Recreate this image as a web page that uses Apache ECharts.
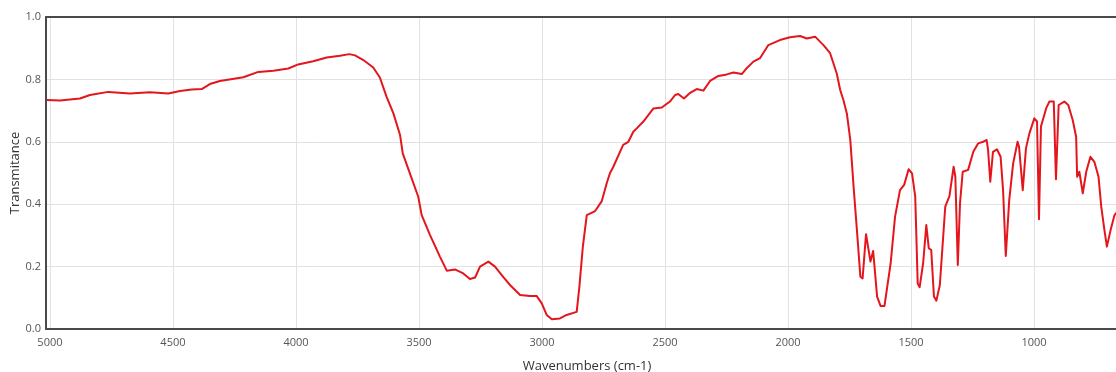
<!DOCTYPE html>
<html>
<head>
<meta charset="utf-8">
<title>IR Spectrum</title>
<script src="https://cdn.jsdelivr.net/npm/echarts@6/dist/echarts.min.js"></script>
<style>
  html, body { margin: 0; padding: 0; background: #ffffff; }
  #chart { width: 1116px; height: 372px; }
</style>
</head>
<body>
<div id="chart"></div>
<script>
// Infrared spectrum: wavenumber (cm-1) vs. transmittance
const wavenumbers = [
  5013, 4959, 4878, 4837, 4763, 4675, 4593, 4519, 4471, 4424, 4383, 4350, 4309, 4214,
  4153, 4092, 4031, 3991, 3930, 3875, 3821, 3783, 3760, 3726, 3686, 3659, 3632, 3604,
  3577, 3566, 3537, 3503, 3489, 3455, 3415, 3387, 3354, 3320, 3293, 3272, 3252, 3218,
  3191, 3157, 3130, 3089, 3049, 3022, 3001, 2981, 2960, 2927, 2900, 2859, 2848, 2834,
  2818, 2784, 2757, 2737, 2724, 2710, 2683, 2670, 2649, 2629, 2615, 2588, 2547, 2513,
  2480, 2459, 2446, 2423, 2398, 2371, 2344, 2317, 2283, 2249, 2222, 2188, 2168, 2141,
  2114, 2080, 2033, 1992, 1951, 1924, 1890, 1856, 1829, 1802, 1788, 1775, 1761, 1747,
  1733, 1720, 1706, 1697, 1683, 1665, 1654, 1638, 1624, 1608, 1583, 1565, 1545, 1528,
  1510, 1496, 1483, 1473, 1465, 1451, 1438, 1428, 1418, 1407, 1397, 1383, 1378, 1361,
  1344, 1327, 1320, 1310, 1301, 1290, 1268, 1247, 1227, 1207, 1193, 1187, 1178, 1167,
  1151, 1136, 1126, 1115, 1101, 1085, 1067, 1061, 1046, 1033, 1019, 999, 988, 980,
  972, 951, 938, 920, 911, 900, 877, 861, 843, 829, 825, 816, 802, 788,
  771, 755, 738, 727, 714, 704, 689, 673, 662
];
const transmittance = [
  0.734, 0.732, 0.739, 0.750, 0.760, 0.755, 0.759, 0.755, 0.763, 0.768, 0.769, 0.785, 0.795, 0.807,
  0.824, 0.828, 0.835, 0.848, 0.858, 0.870, 0.876, 0.881, 0.877, 0.862, 0.838, 0.806, 0.745, 0.691,
  0.622, 0.563, 0.499, 0.424, 0.365, 0.301, 0.232, 0.187, 0.191, 0.178, 0.160, 0.165, 0.200, 0.216,
  0.200, 0.166, 0.141, 0.109, 0.106, 0.106, 0.082, 0.045, 0.031, 0.034, 0.045, 0.055, 0.136, 0.264,
  0.365, 0.378, 0.410, 0.467, 0.499, 0.520, 0.568, 0.590, 0.600, 0.632, 0.643, 0.665, 0.707, 0.710,
  0.729, 0.750, 0.753, 0.739, 0.757, 0.769, 0.764, 0.795, 0.811, 0.816, 0.822, 0.817, 0.836, 0.857,
  0.868, 0.910, 0.926, 0.935, 0.939, 0.931, 0.937, 0.910, 0.884, 0.819, 0.766, 0.734, 0.691, 0.606,
  0.450, 0.317, 0.168, 0.162, 0.304, 0.216, 0.250, 0.104, 0.074, 0.074, 0.210, 0.360, 0.445, 0.462,
  0.512, 0.499, 0.424, 0.146, 0.134, 0.210, 0.333, 0.259, 0.253, 0.104, 0.091, 0.141, 0.141, 0.392,
  0.426, 0.520, 0.488, 0.205, 0.403, 0.504, 0.510, 0.568, 0.595, 0.600, 0.606, 0.574, 0.472, 0.568,
  0.576, 0.552, 0.445, 0.234, 0.413, 0.531, 0.600, 0.584, 0.445, 0.579, 0.627, 0.675, 0.665, 0.352,
  0.649, 0.707, 0.729, 0.729, 0.480, 0.718, 0.729, 0.718, 0.670, 0.616, 0.488, 0.504, 0.435, 0.504,
  0.552, 0.536, 0.488, 0.392, 0.317, 0.264, 0.317, 0.365, 0.376
];
const xTickValues = [5000, 4500, 4000, 3500, 3000, 2500, 2000, 1500, 1000];
const yTickLabels = ['0.0', '0.2', '0.4', '0.6', '0.8', '1.0'];

const points = wavenumbers.map((w, i) => [w, transmittance[i]]);

// visible wavenumber window (axis runs high → low from left to right)
const xLow = 667;
const xHigh = 5016;
const axisColor = '#4a4a4a';
const textColor = '#555555';

const chart = echarts.init(document.getElementById('chart'), null, { renderer: 'canvas' });
chart.setOption({
  animation: false,
  backgroundColor: '#ffffff',
  grid: { left: 46, right: 0, top: 17, bottom: 43, containLabel: false, outerBoundsMode: 'none' },
  xAxis: [
    {
      type: 'value',
      inverse: true,
      min: xLow,
      max: xHigh,
      name: 'Wavenumbers (cm-1)',
      nameLocation: 'middle',
      nameGap: 31,
      nameMoveOverlap: false,
      nameTextStyle: { fontFamily: 'Open Sans', fontSize: 13, color: '#333333', padding: [0, 0, 0, 12] },
      axisLine: { show: true, onZero: false, lineStyle: { color: axisColor, width: 2 } },
      axisTick: { show: false, customValues: xTickValues },
      axisLabel: {
        customValues: xTickValues,
        color: textColor,
        fontFamily: 'Open Sans',
        fontSize: 11,
        margin: 8,
        formatter: v => String(v)
      },
      splitLine: { show: true, lineStyle: { color: '#e2e2e2', width: 1 } }
    },
    {
      type: 'value',
      inverse: true,
      position: 'top',
      min: xLow,
      max: xHigh,
      axisLine: { show: true, onZero: false, lineStyle: { color: axisColor, width: 2 } },
      axisTick: { show: false },
      axisLabel: { show: false },
      splitLine: { show: false }
    }
  ],
  yAxis: {
    type: 'value',
    min: 0,
    max: 1,
    interval: 0.2,
    name: 'Transmitance',
    nameLocation: 'middle',
    nameGap: 24,
    nameMoveOverlap: false,
    nameTextStyle: { fontFamily: 'Open Sans', fontSize: 13, color: '#333333' },
    axisLine: { show: true, lineStyle: { color: axisColor, width: 2 } },
    axisTick: { show: false },
    axisLabel: {
      color: textColor,
      fontFamily: 'Open Sans',
      fontSize: 11,
      margin: 5,
      formatter: v => yTickLabels[Math.round(v / 0.2)]
    },
    splitLine: { show: true, lineStyle: { color: '#e2e2e2', width: 1 } }
  },
  series: [
    {
      type: 'line',
      xAxisIndex: 0,
      data: points,
      showSymbol: false,
      smooth: false,
      clip: true,
      lineStyle: { color: '#e3161d', width: 2, join: 'round' }
    }
  ]
});
</script>
</body>
</html>
